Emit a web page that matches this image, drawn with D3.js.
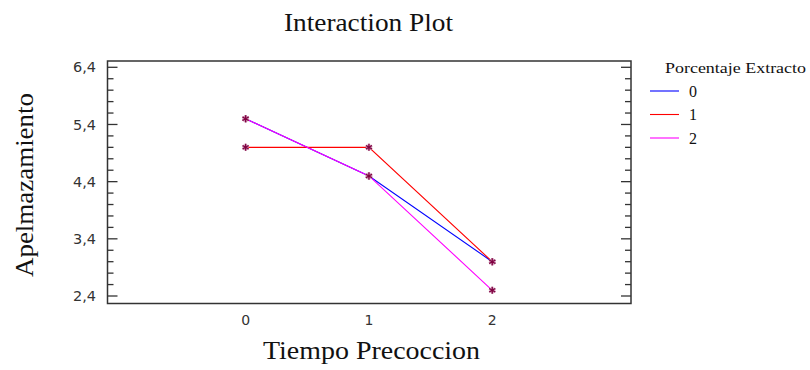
<!DOCTYPE html>
<html><head><meta charset="utf-8">
<script src="https://cdn.jsdelivr.net/npm/d3@7"></script>
<style>body{margin:0;background:#fff}</style>
</head><body>
<script>
const categories = [0, 1, 2];
const seriesNames = ["0", "1", "2"];
const series0 = [5.5, 4.5, 3.0];
const series1 = [5.0, 5.0, 3.0];
const series2 = [5.5, 4.5, 2.5];
const seriesColors = ["#0000ff", "#ff0000", "#ff00ff"];
const yTicks = [2.4, 3.4, 4.4, 5.4, 6.4];
const yTickLabels = ["2,4", "3,4", "4,4", "5,4", "6,4"];
const xTickLabels = ["0", "1", "2"];

const W = 810, H = 370;
const svg = d3.select("body").append("svg").attr("width", W).attr("height", H);
const L = 107.5, R = 631, T = 61, B = 303.5;
const x = d3.scaleLinear().domain([-1.12, 3.125]).range([L, R]);
const y = d3.scaleLinear().domain([2.4, 6.4]).range([296, 67.3]);

// box
svg.append("rect").attr("x", L).attr("y", T).attr("width", R - L).attr("height", B - T)
  .attr("fill", "none").attr("stroke", "#333").attr("stroke-width", 1.5);

// ticks
const minor = d3.range(0, 21).map(i => 2.4 + i * 0.2).filter(v => y(v) > T && y(v) < B);
const g = svg.append("g");
minor.forEach((v) => {
  const major = Math.abs((v - 2.4) - Math.round(v - 2.4)) < 1e-6;
  const len = major ? 10 : 6;
  g.append("line").attr("x1", L).attr("x2", L + len).attr("y1", y(v)).attr("y2", y(v)).attr("stroke", "#333").attr("stroke-width", 1.3);
  g.append("line").attr("x1", R).attr("x2", R - len).attr("y1", y(v)).attr("y2", y(v)).attr("stroke", "#333").attr("stroke-width", 1.3);
});
yTicks.forEach((v, i) => {
  svg.append("text").attr("x", 96).attr("y", y(v)).attr("dy", "0.35em").attr("text-anchor", "end")
    .attr("font-family", "DejaVu Sans, sans-serif").attr("font-size", 14.5).attr("fill", "#333").text(yTickLabels[i]);
});
categories.forEach((c, i) => {
  svg.append("text").attr("x", x(c)).attr("y", 320.5).attr("dy", "0.35em").attr("text-anchor", "middle")
    .attr("font-family", "DejaVu Sans, sans-serif").attr("font-size", 14).attr("fill", "#333").text(xTickLabels[i]);
});

// lines
const all = [series0, series1, series2];
const line = d3.line().x((d, i) => x(categories[i])).y(d => y(d));
all.forEach((s, k) => {
  svg.append("path").attr("d", line(s)).attr("fill", "none").attr("stroke", seriesColors[k]).attr("stroke-width", 1.1);
});
const sym = d3.symbol().type(d3.symbolAsterisk).size(34);
all.forEach((s, k) => {
  s.forEach((v, i) => {
    svg.append("path").attr("d", sym()).attr("transform", `translate(${x(categories[i])},${y(v)})`)
      .attr("fill", "none").attr("stroke", "#c890b0").attr("stroke-width", 2.4);
    svg.append("path").attr("d", sym()).attr("transform", `translate(${x(categories[i])},${y(v)})`)
      .attr("fill", "none").attr("stroke", "#800040").attr("stroke-width", 1.2);
  });
});

// titles
const serif = "Liberation Serif, Times New Roman, serif";
svg.append("text").attr("x", 284).attr("y", 31).attr("textLength", 169).attr("lengthAdjust", "spacingAndGlyphs")
  .attr("font-family", serif).attr("font-size", 25).attr("fill", "#111").text("Interaction Plot");
svg.append("text").attr("x", 263).attr("y", 359).attr("textLength", 217).attr("lengthAdjust", "spacingAndGlyphs")
  .attr("font-family", serif).attr("font-size", 25).attr("fill", "#111").text("Tiempo Precoccion");
svg.append("text").attr("transform", "translate(33,277) rotate(-90)").attr("textLength", 184).attr("lengthAdjust", "spacingAndGlyphs")
  .attr("font-family", serif).attr("font-size", 26).attr("fill", "#111").text("Apelmazamiento");

// legend
svg.append("text").attr("x", 665).attr("y", 73).attr("textLength", 141).attr("lengthAdjust", "spacingAndGlyphs")
  .attr("font-family", serif).attr("font-size", 15.5).attr("fill", "#111").text("Porcentaje Extracto");
const ly = [91, 114.5, 138];
seriesNames.forEach((n, k) => {
  svg.append("line").attr("x1", 650).attr("x2", 679).attr("y1", ly[k]).attr("y2", ly[k]).attr("stroke", seriesColors[k]).attr("stroke-width", 1.1);
  svg.append("text").attr("x", 689).attr("y", ly[k]).attr("dy", "0.35em").attr("font-family", serif)
    .attr("font-size", 16).attr("fill", "#111").text(n);
});
</script>
</body></html>
